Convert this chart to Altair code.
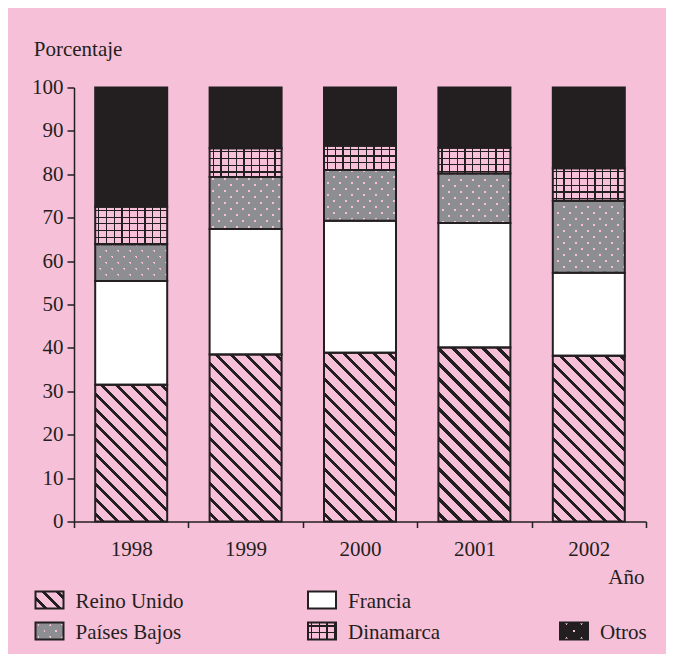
import altair as alt

# ---------------- data ----------------
years = ["1998", "1999", "2000", "2001", "2002"]
series = ["Reino Unido", "Francia", "Países Bajos", "Dinamarca", "Otros"]
reino_unido = [31.5, 38.5, 38.9, 40.1, 38.2]
francia = [23.9, 28.9, 30.4, 28.7, 19.1]
paises_bajos = [8.5, 12.0, 11.7, 11.4, 16.6]
dinamarca = [8.6, 6.6, 5.6, 5.9, 7.5]
otros = [27.5, 14.0, 13.4, 13.9, 18.6]
y_ticks = [0, 10, 20, 30, 40, 50, 60, 70, 80, 90, 100]

# ---------------- style ----------------
PINK = "#f7c0d9"
INK = "#231f20"
GRAY = "#8d8e92"
WHITE = "#ffffff"
CLEAR = "rgba(0,0,0,0)"
FONT = "Liberation Serif"
FS = 21
PLOT_W, PLOT_H = 572, 434
BAR_W = 72
SW_W, SW_H = 28, 17
SHAPE = "M-1.4,-0.85H1.4V0.85H-1.4Z"


def stripes(length, spacing, width, bg, fg, phase):
    stops = [{"offset": 0, "color": bg}]
    d = phase - spacing
    while d < length:
        if d + width > 0:
            a = round(max(d, 0) / length, 5)
            b = round(min(d + width, length) / length, 5)
            stops += [{"offset": a, "color": bg}, {"offset": a, "color": fg},
                      {"offset": b, "color": fg}, {"offset": b, "color": bg}]
        d += spacing
    stops.append({"offset": 1, "color": bg})
    return stops


def g_down(w, h, stops):  # "\" lines
    k = (w + h) / (w * w + h * h)
    return {"gradient": "linear", "x1": 0, "y1": 1,
            "x2": round(w * k, 6), "y2": round(1 - h * k, 6), "stops": stops}


def g_up(w, h, stops):  # "/" lines
    k = (w + h) / (w * w + h * h)
    return {"gradient": "linear", "x1": 0, "y1": 0,
            "x2": round(w * k, 6), "y2": round(h * k, 6), "stops": stops}


def g_vlines(stops):
    return {"gradient": "linear", "x1": 0, "y1": 0.5, "x2": 1, "y2": 0.5, "stops": stops}


def g_hlines(stops):
    return {"gradient": "linear", "x1": 0.5, "y1": 0, "x2": 0.5, "y2": 1, "stops": stops}


def fills(cat, w, h, legend=False):
    L = w + h
    if cat == "Reino Unido":
        if legend:
            return g_down(w, h, stripes(L, 14, 4.4, PINK, INK, 8)), CLEAR
        return g_down(w, h, stripes(L, 15, 4.2, PINK, INK, 6)), CLEAR
    if cat == "Francia":
        return WHITE, CLEAR
    if cat == "Países Bajos":
        return (g_up(w, h, stripes(L, 12, 2.8, GRAY, PINK, 4)),
                g_down(w, h, stripes(L, 12, 2.8, GRAY, CLEAR, 4)))
    if cat == "Dinamarca":
        return (g_vlines(stripes(w, 7.7, 1.3, PINK, INK, 3)),
                g_hlines(stripes(h, 6.7, 1.2, CLEAR, INK, 3)))
    if legend:
        return (g_up(w, h, stripes(L, 15, 2.8, INK, PINK, 6)),
                g_down(w, h, stripes(L, 15, 2.8, INK, CLEAR, 6)))
    return INK, CLEAR


values_by_series = [reino_unido, francia, paises_bajos, dinamarca, otros]
bar_rows = []
for i, yr in enumerate(years):
    lo = 0.0
    for s, vals in zip(series, values_by_series):
        hi = round(lo + vals[i], 4)
        base, over = fills(s, BAR_W, vals[i] * PLOT_H / 100)
        bar_rows.append({"year": yr, "series": s, "lo": lo, "hi": min(hi, 100),
                         "base": base, "over": over})
        lo = hi

leg_rows = []
for k, s in enumerate(series):
    base, over = fills(s, SW_W, SW_H, legend=True)
    leg_rows.append({"series": s, "k": k, "base": base, "over": over})

# ---------------- bars ----------------
bars = alt.Chart(alt.Data(values=bar_rows))
x_enc = alt.X(
    "year:N", sort=years,
    scale=alt.Scale(paddingInner=0, paddingOuter=0),
    axis=alt.Axis(
        title="Año", titleX=570, titleY=61.5, titleAlign="right",
        titleBaseline="alphabetic", titleFont=FONT, titleFontSize=FS,
        titleFontWeight="normal", titleColor=INK,
        labelAngle=0, labelFont=FONT, labelFontSize=FS, labelColor=INK,
        labelPadding=11, tickSize=6, tickBand="extent", tickColor=INK,
        tickWidth=1.5, domainColor=INK, domainWidth=1.5,
    ),
)
y_enc = alt.Y(
    "lo:Q",
    scale=alt.Scale(domain=[0, 100], nice=False, zero=True),
    axis=alt.Axis(
        values=y_ticks, title="Porcentaje", titleAngle=0, titleX=-40.7,
        titleY=-31.8, titleAlign="left", titleBaseline="alphabetic",
        titleFont=FONT, titleFontSize=FS, titleFontWeight="normal",
        titleColor=INK, labelFont=FONT, labelFontSize=FS, labelColor=INK,
        labelPadding=4, tickSize=7, tickColor=INK, tickWidth=1.5,
        domainColor=INK, domainWidth=1.5,
    ),
)
base_layer = bars.mark_bar(size=BAR_W, opacity=1, strokeWidth=0).encode(
    x=x_enc, y=y_enc, y2=alt.Y2("hi"), fill=alt.Fill("base:N", scale=None)
)
over_layer = bars.mark_bar(size=BAR_W, opacity=1, stroke=INK, strokeWidth=2).encode(
    x=alt.X("year:N", sort=years), y=alt.Y("lo:Q"), y2=alt.Y2("hi"),
    fill=alt.Fill("over:N", scale=None)
)

# ---------------- legend ----------------
leg = alt.Chart(alt.Data(values=leg_rows)).transform_calculate(
    col="datum.k == 4 ? 2 : datum.k % 2",
    row="datum.k == 4 ? 1 : floor(datum.k / 2)",
)
lx = alt.X("col:Q", scale=alt.Scale(domain=[0, 1, 2], range=[-24.5, 248, 500],
                                    zero=False, nice=False), axis=None)
ly = alt.Y("row:Q", scale=alt.Scale(domain=[0, 1], range=[512.5, 543.5],
                                    zero=False, nice=False), axis=None)
leg_base = leg.mark_point(shape=SHAPE, size=400, filled=True, opacity=1,
                          strokeWidth=0).encode(
    x=lx, y=ly, fill=alt.Fill("base:N", scale=None))
leg_over = leg.mark_point(shape=SHAPE, size=400, filled=True, opacity=1,
                          stroke=INK, strokeWidth=2).encode(
    x=lx, y=ly, fill=alt.Fill("over:N", scale=None))
leg_text = leg.mark_text(align="left", baseline="alphabetic", dx=26, dy=7.5,
                         font=FONT, fontSize=FS, color=INK).encode(
    x=lx, y=ly, text="series:N")

chart = alt.layer(
    alt.layer(base_layer, over_layer),
    alt.layer(leg_base, leg_over, leg_text),
).resolve_scale(x="independent", y="independent").properties(
    width=PLOT_W, height=PLOT_H,
    autosize=alt.AutoSizeParams(type="none"),
    padding={"left": 66, "top": 79.5, "right": 20, "bottom": 132.5},
    background=PINK,
).configure_view(strokeWidth=0).configure_axis(grid=False)

chart.save("out.html", embed_options={"renderer": "svg", "actions": False})
